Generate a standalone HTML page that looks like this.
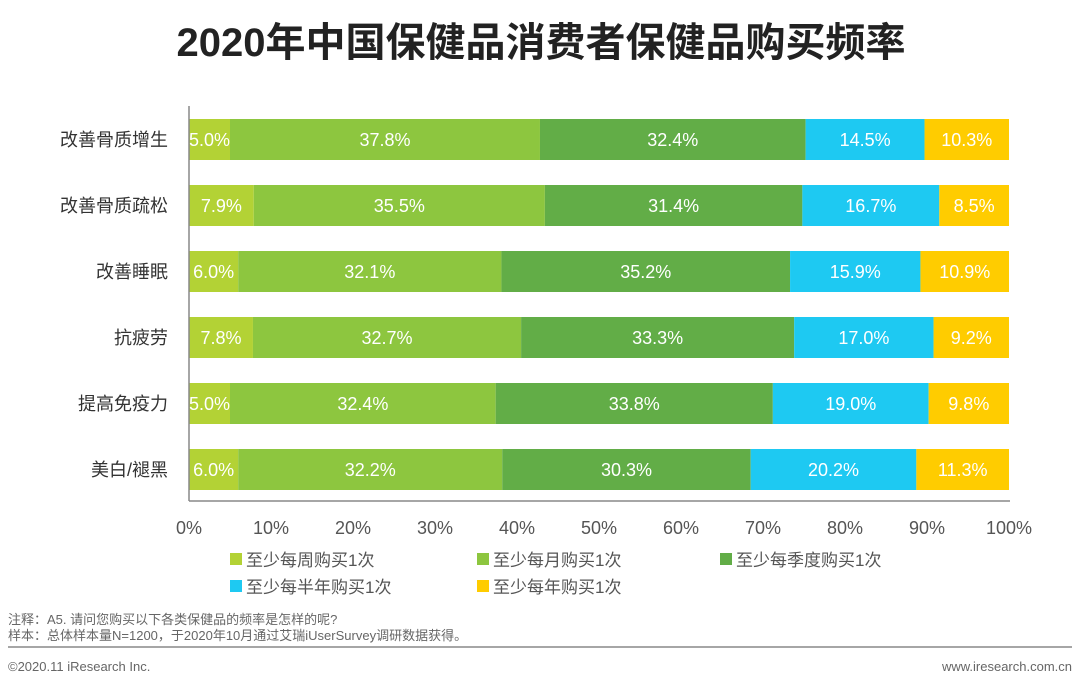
<!DOCTYPE html>
<html><head><meta charset="utf-8"><style>
body{margin:0;background:#fff;width:1080px;height:687px;overflow:hidden}
svg{display:block}
text{font-family:"Liberation Sans","Noto Sans CJK SC",sans-serif}
</style></head><body>
<svg width="1080" height="687" viewBox="0 0 1080 687">
<text x="541" y="56" text-anchor="middle" font-size="40" font-weight="bold" fill="#222">2020年中国保健品消费者保健品购买频率</text>
<g id="bars"></g>
<line x1="189" y1="106" x2="189" y2="501" stroke="#888" stroke-width="1.5"/>
<line x1="189" y1="501" x2="1010" y2="501" stroke="#888" stroke-width="1.5"/>
<g font-size="18" fill="#555" text-anchor="middle">
<text x="189" y="534">0%</text><text x="271" y="534">10%</text><text x="353" y="534">20%</text><text x="435" y="534">30%</text><text x="517" y="534">40%</text><text x="599" y="534">50%</text><text x="681" y="534">60%</text><text x="763" y="534">70%</text><text x="845" y="534">80%</text><text x="927" y="534">90%</text><text x="1009" y="534">100%</text>
</g>
<g font-size="17" fill="#555">
<rect x="230" y="553" width="12" height="12" fill="#b3d235"/><text x="246" y="566">至少每周购买1次</text>
<rect x="477" y="553" width="12" height="12" fill="#8dc63f"/><text x="493" y="566">至少每月购买1次</text>
<rect x="720" y="553" width="12" height="12" fill="#62ad47"/><text x="736" y="566">至少每季度购买1次</text>
<rect x="230" y="580" width="12" height="12" fill="#1ec9f2"/><text x="246" y="593">至少每半年购买1次</text>
<rect x="477" y="580" width="12" height="12" fill="#ffcc00"/><text x="493" y="593">至少每年购买1次</text>
</g>
<g font-size="13" fill="#666">
<text x="8" y="624">注释：A5. 请问您购买以下各类保健品的频率是怎样的呢?</text>
<text x="8" y="640">样本：总体样本量N=1200，于2020年10月通过艾瑞iUserSurvey调研数据获得。</text>
<text x="8" y="671">©2020.11 iResearch Inc.</text>
<text x="1072" y="671" text-anchor="end">www.iresearch.com.cn</text>
</g>
<line x1="8" y1="647" x2="1072" y2="647" stroke="#888" stroke-width="1.5"/>
</svg>
<script>
var data=[["改善骨质增生",[5.0,37.8,32.4,14.5,10.3]],["改善骨质疏松",[7.9,35.5,31.4,16.7,8.5]],["改善睡眠",[6.0,32.1,35.2,15.9,10.9]],["抗疲劳",[7.8,32.7,33.3,17.0,9.2]],["提高免疫力",[5.0,32.4,33.8,19.0,9.8]],["美白/褪黑",[6.0,32.2,30.3,20.2,11.3]]];
var cols=["#b3d235","#8dc63f","#62ad47","#1ec9f2","#ffcc00"];
var s="",x0=189,sc=8.2;
data.forEach(function(r,i){var y=119+66*i,cum=0;
s+='<text x="168" y="'+(y+27)+'" text-anchor="end" font-size="18" fill="#333">'+r[0]+'</text>';
r[1].forEach(function(v,j){var x=x0+cum*sc,w=v*sc;if(j==4)w=1009-x;
s+='<rect x="'+x+'" y="'+y+'" width="'+w+'" height="41" fill="'+cols[j]+'"/>';
s+='<text x="'+(x+w/2)+'" y="'+(y+27)+'" text-anchor="middle" font-size="18" fill="#fff">'+v.toFixed(1)+'%</text>';cum+=v;});});
document.getElementById("bars").innerHTML=s;
</script>
</body></html>
